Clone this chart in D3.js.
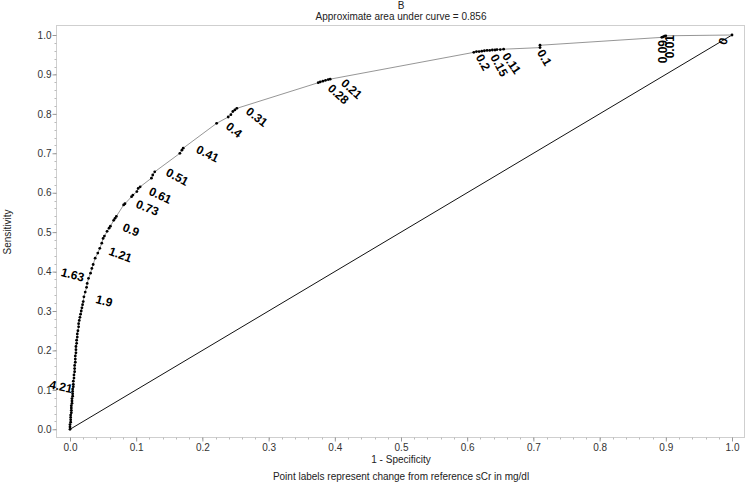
<!DOCTYPE html>
<html>
<head>
<meta charset="utf-8">
<script src="https://cdn.jsdelivr.net/npm/d3@7"></script>
<style>
  html, body { margin: 0; padding: 0; background: #fff; }
  svg { display: block; font-family: "Liberation Sans", Arial, sans-serif; }
</style>
</head>
<body>
<svg id="chart" width="750" height="485"></svg>
<script>
// ---------------- DATA ----------------
const titleText = "B";
const subtitleText = "Approximate area under curve = 0.856";
const xAxisTitle = "1 - Specificity";
const yAxisTitle = "Sensitivity";
const footnote = "Point labels represent change from reference sCr in mg/dl";

const xTicks = [0, 0.1, 0.2, 0.3, 0.4, 0.5, 0.6, 0.7, 0.8, 0.9, 1.0];
const yTicks = [0, 0.1, 0.2, 0.3, 0.4, 0.5, 0.6, 0.7, 0.8, 0.9, 1.0];

// ROC points: 1 - specificity (fpr) and sensitivity (tpr)
const fpr = [
  0, 0, 0, 0.001, 0.001, 0.001, 0.001, 0.002, 0.002, 0.002, 0.002, 0.003, 0.003, 0.003, 0.004, 0.004, 0.004, 0.004, 0.005, 0.005,
  0.005, 0.006, 0.006, 0.007, 0.007, 0.007, 0.008, 0.008, 0.008, 0.009, 0.009, 0.009, 0.010, 0.010, 0.011, 0.011, 0.012, 0.013, 0.013, 0.014,
  0.015, 0.016, 0.017, 0.018, 0.019, 0.020, 0.021,
  0.023, 0.025, 0.026, 0.028, 0.031, 0.033, 0.035, 0.038, 0.042, 0.045, 0.048, 0.050, 0.052, 0.056, 0.059, 0.061, 0.066, 0.068, 0.070,
  0.081, 0.083, 0.093, 0.095, 0.101, 0.103, 0.106, 0.123, 0.125, 0.128,
  0.166, 0.169, 0.171, 0.2215, 0.239, 0.243, 0.246, 0.249, 0.252,
  0.375, 0.378, 0.382, 0.386, 0.390, 0.393,
  0.610, 0.614, 0.618, 0.622, 0.626, 0.630, 0.634, 0.638, 0.642, 0.645, 0.650, 0.655,
  0.710, 0.710, 0.894, 0.896, 0.898, 0.900, 1.0
];
const tpr = [
  0, 0.006, 0.012, 0.018, 0.024, 0.030, 0.036, 0.042, 0.048, 0.054, 0.060, 0.066, 0.072, 0.078, 0.084, 0.090, 0.096, 0.102, 0.108, 0.114,
  0.122, 0.130, 0.138, 0.146, 0.154, 0.162, 0.170, 0.178, 0.186, 0.194, 0.202, 0.210, 0.218, 0.226, 0.234, 0.242, 0.250, 0.260, 0.268, 0.276,
  0.284, 0.292, 0.300, 0.308, 0.316, 0.324, 0.336,
  0.348, 0.360, 0.370, 0.383, 0.396, 0.408, 0.418, 0.434, 0.447, 0.459, 0.472, 0.484, 0.490, 0.502, 0.510, 0.515, 0.530, 0.535, 0.540,
  0.569, 0.572, 0.590, 0.594, 0.603, 0.611, 0.615, 0.637, 0.645, 0.653,
  0.700, 0.708, 0.713, 0.776, 0.792, 0.798, 0.806, 0.810, 0.814,
  0.879, 0.881, 0.883, 0.885, 0.887, 0.888,
  0.956, 0.958, 0.958, 0.959, 0.960, 0.961, 0.961, 0.962, 0.962, 0.963, 0.963, 0.964,
  0.968, 0.974, 0.994, 0.995, 0.997, 0.998, 1.0
];

// Point labels (threshold change in sCr) and the ROC point each belongs to
const labelText = ["4.21", "1.9", "1.63", "1.21", "0.9", "0.73", "0.61", "0.51", "0.41", "0.4",
                   "0.31", "0.28", "0.21", "0.2", "0.15", "0.11", "0.1", "0.09", "0.01", "0"];
const labelFpr  = [0.005, 0.021, 0.028, 0.045, 0.059, 0.081, 0.103, 0.125, 0.169, 0.2215,
                   0.252, 0.378, 0.393, 0.614, 0.630, 0.645, 0.710, 0.894, 0.898, 1.0];
const labelTpr  = [0.108, 0.336, 0.383, 0.459, 0.510, 0.569, 0.611, 0.645, 0.708, 0.776,
                   0.814, 0.881, 0.888, 0.958, 0.961, 0.963, 0.970, 0.994, 0.997, 1.0];

// ---------------- LAYOUT (presentation only) ----------------
const frame = { left: 56.5, top: 25.5, right: 744.5, bottom: 437.5 };
const plot  = { x0: 70, x1: 732, y0: 429.3, y1: 35 };
// label placement: rotation (deg), pixel offset from point, text anchor
const labelAngle  = [12, 15, 15, 20, 22, 22, 25, 28, 26, 38, 38, 42, 42, 62, 62, 55, 60, -90, -90, -75];
const labelDx     = [-1.7, 11.1, -5.6, 8.2, 12.6, 11.4, 9.8, 12.3, 13.3, 8.3, 8.3, 6.7, 10, -1, 3, 4.7, -3.3, 4.9, 9.5, -4];
const labelDy     = [6.3, 5.9, 3.4, 6.2, 2.2, 2.4, 5.9, 0.1, 2.2, 4.7, 4.7, 7.5, 5, 5.4, 6.6, 6.7, 5.6, 2.6, -1.2, 4];
const labelAnchor = ["end", "start", "end", "start", "start", "start", "start", "start", "start", "start",
                     "start", "start", "start", "start", "start", "start", "start", "end", "end", "end"];

// ---------------- DRAW ----------------
const svg = d3.select("#chart");
const x = d3.scaleLinear().domain([0, 1]).range([plot.x0, plot.x1]);
const y = d3.scaleLinear().domain([0, 1]).range([plot.y0, plot.y1]);

// titles
svg.append("text").attr("x", 401).attr("y", 9).attr("text-anchor", "middle")
  .attr("font-size", 10).attr("fill", "#222").text(titleText);
svg.append("text").attr("x", 401).attr("y", 19.5).attr("text-anchor", "middle")
  .attr("font-size", 10).attr("fill", "#222").text(subtitleText);

// frame
svg.append("rect")
  .attr("x", frame.left).attr("y", frame.top)
  .attr("width", frame.right - frame.left).attr("height", frame.bottom - frame.top)
  .attr("fill", "none").attr("stroke", "#cfcfcf").attr("stroke-width", 1);

// minor ticks
const minor = d3.range(0, 1.0001, 0.02);
const minorG = svg.append("g").attr("stroke", "#bbb").attr("stroke-width", 1);
minor.forEach(v => {
  const px = Math.round(x(v)) + 0.5;
  minorG.append("line").attr("x1", px).attr("x2", px).attr("y1", frame.bottom).attr("y2", frame.bottom + 2);
  const py = Math.round(y(v)) + 0.5;
  minorG.append("line").attr("x1", frame.left - 2).attr("x2", frame.left).attr("y1", py).attr("y2", py);
});

// axes with major ticks
const xAxis = d3.axisBottom(x).tickValues(xTicks).tickFormat(d3.format(".1f")).tickSize(4).tickSizeOuter(0);
const gx = svg.append("g").attr("transform", `translate(0,${frame.bottom})`).call(xAxis);
gx.select(".domain").remove();
gx.selectAll(".tick line").attr("stroke", "#999");
gx.selectAll(".tick text").attr("font-size", 10).attr("fill", "#333")
  .attr("font-family", "'Liberation Sans', Arial, sans-serif").attr("dy", "0.9em").attr("y", 4.5);

const yAxis = d3.axisLeft(y).tickValues(yTicks).tickFormat(d3.format(".1f")).tickSize(4).tickSizeOuter(0);
const gy = svg.append("g").attr("transform", `translate(${frame.left},0)`).call(yAxis);
gy.select(".domain").remove();
gy.selectAll(".tick line").attr("stroke", "#999");
gy.selectAll(".tick text").attr("font-size", 10).attr("fill", "#333")
  .attr("font-family", "'Liberation Sans', Arial, sans-serif").attr("x", -5);

// axis titles
svg.append("text").attr("x", 401).attr("y", 463).attr("text-anchor", "middle")
  .attr("font-size", 10).attr("fill", "#222").text(xAxisTitle);
svg.append("text").attr("x", 401).attr("y", 480).attr("text-anchor", "middle")
  .attr("font-size", 10).attr("fill", "#222").text(footnote);
svg.append("text").attr("transform", `translate(11,232) rotate(-90)`).attr("text-anchor", "middle")
  .attr("font-size", 10).attr("fill", "#222").text(yAxisTitle);

// diagonal reference line
svg.append("line")
  .attr("x1", x(0)).attr("y1", y(0)).attr("x2", x(1)).attr("y2", y(1))
  .attr("stroke", "#111").attr("stroke-width", 1);

// ROC curve
const pts = fpr.map((f, i) => [f, tpr[i]]);
svg.append("path")
  .datum(pts)
  .attr("d", d3.line().x(d => x(d[0])).y(d => y(d[1])))
  .attr("fill", "none").attr("stroke", "#8a8a8a").attr("stroke-width", 0.9);

svg.append("g").selectAll("circle").data(pts).join("circle")
  .attr("cx", d => x(d[0])).attr("cy", d => y(d[1])).attr("r", 1.4).attr("fill", "#000");

// point labels
svg.append("g").selectAll("text").data(labelText).join("text")
  .attr("transform", (d, i) => {
    const px = x(labelFpr[i]) + labelDx[i];
    const py = y(labelTpr[i]) + labelDy[i];
    return `translate(${px},${py}) rotate(${labelAngle[i]})`;
  })
  .attr("text-anchor", (d, i) => labelAnchor[i])
  .attr("font-size", 12).attr("font-weight", "bold").attr("fill", "#000")
  .text(d => d);
</script>
</body>
</html>
